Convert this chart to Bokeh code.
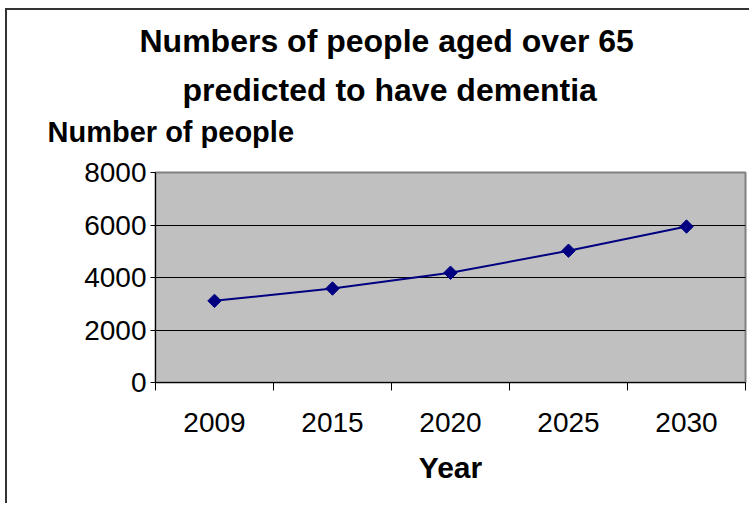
from bokeh.plotting import figure
from bokeh.models import FixedTicker, Range1d, Title
from bokeh.embed import file_html
from bokeh.resources import INLINE

# data
years = ["2009", "2015", "2020", "2025", "2030"]
people = [3110, 3580, 4180, 5020, 5940]
y_ticks = [0, 2000, 4000, 6000, 8000]

title_lines = ["Numbers of people aged over 65", "predicted to have dementia"]
y_title = "Number of people"
x_title = "Year"

FONT = "Liberation Sans"
NAVY = "#000080"

xs = [i + 0.5 for i in range(len(years))]

p = figure(width=744, height=495, output_backend="svg", toolbar_location=None,
           x_range=Range1d(0, len(years)), y_range=Range1d(y_ticks[0], y_ticks[-1]),
           min_border_left=148, min_border_right=6, min_border_top=0, min_border_bottom=123)
p.styles = {"border-left": "2px solid #333333", "border-top": "2px solid #333333",
            "margin-left": "5px", "margin-top": "8px"}

p.background_fill_color = "#C0C0C0"
p.border_fill_color = "white"
p.outline_line_color = "#808080"
p.outline_line_width = 2

p.xgrid.visible = False
p.ygrid.grid_line_color = "#000000"
p.ygrid.grid_line_width = 1
p.ygrid.ticker = FixedTicker(ticks=y_ticks)

# x axis: labels at category centres, ticks at boundaries
p.xaxis.ticker = FixedTicker(ticks=xs, minor_ticks=list(range(len(years) + 1)))
p.xaxis.major_label_overrides = {x: y for x, y in zip(xs, years)}
p.xaxis.major_tick_out = 0
p.xaxis.major_tick_in = 0
p.xaxis.minor_tick_out = 8
p.xaxis.minor_tick_in = 0
p.xaxis.minor_tick_line_color = "#000000"
p.xaxis.major_label_standoff = 22
p.xaxis.major_label_text_font = FONT
p.xaxis.major_label_text_font_size = "28px"
p.xaxis.major_label_text_color = "#000000"
p.xaxis.axis_line_color = "#000000"
p.xaxis.axis_label = x_title
p.xaxis.axis_label_text_font = FONT
p.xaxis.axis_label_text_font_size = "30px"
p.xaxis.axis_label_text_font_style = "bold"
p.xaxis.axis_label_text_color = "#000000"
p.xaxis.axis_label_standoff = 16

p.yaxis.ticker = FixedTicker(ticks=y_ticks)
p.yaxis.major_tick_out = 5
p.yaxis.major_tick_in = 0
p.yaxis.minor_tick_line_color = None
p.yaxis.major_label_standoff = 4
p.yaxis.major_label_text_font = FONT
p.yaxis.major_label_text_font_size = "28px"
p.yaxis.major_label_text_color = "#000000"
p.yaxis.axis_line_color = "#000000"

p.line(xs, people, line_color=NAVY, line_width=2)
p.scatter(xs, people, marker="square", angle=0.785398, size=9.5,
          fill_color=NAVY, line_color=NAVY)

# titles stacked above the frame (first added is nearest the frame)
common = dict(text_font=FONT, text_color="#000000", text_font_style="bold", align="left")
p.add_layout(Title(text=" ", text_font_size="1px", offset=0, standoff=16, **common), "above")
p.add_layout(Title(text=y_title, text_font_size="29px", offset=-108, standoff=12, **common), "above")
p.add_layout(Title(text=title_lines[1], text_font_size="32px", offset=27, standoff=0, **common), "above")
p.add_layout(Title(text=title_lines[0], text_font_size="32px", offset=-16, standoff=21, **common), "above")

open("out.html", "w").write(file_html(p, INLINE))
